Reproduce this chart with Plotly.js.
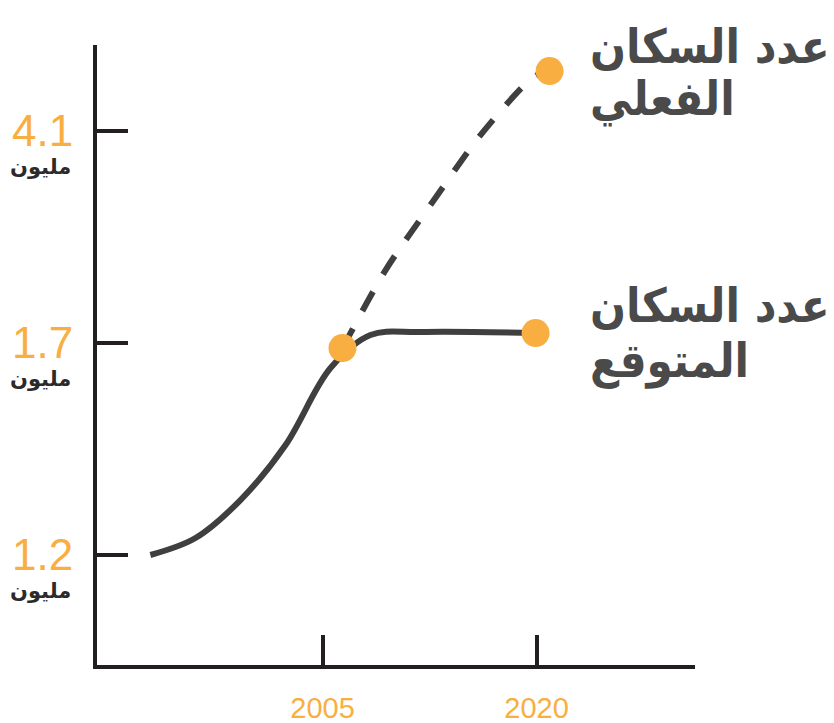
<!DOCTYPE html>
<html>
<head>
<meta charset="utf-8">
<script src="https://cdn.plot.ly/plotly-3.0.1.min.js"></script>
<style>html,body{margin:0;padding:0;background:#fff;}#chart{width:834px;height:723px;}</style>
</head>
<body>
<div id="chart"></div>
<script>
// Y axis levels (millions), equally spaced on the chart
var yLevelPos = [0, 1, 2];
var yLevelText = ['1.2', '1.7', '4.1'];
var yUnitText = 'مليون';
// X axis ticks
var xTicks = [2005, 2020];
var xTickText = ['2005', '2020'];

// Expected population curve (solid) – positions on the level scale
var expectedX = [1992.94, 1996.1, 1999.25, 2002.41, 2005.56, 2008.36, 2011.87, 2019.93];
var expectedY = [0, 0.080, 0.259, 0.519, 0.882, 1.038, 1.052, 1.047];
// Actual population curve (dashed)
var actualX = [2006.4, 2009.42, 2012.71, 2016.07, 2019.79, 2020.91];
var actualY = [0.976, 1.344, 1.665, 1.981, 2.255, 2.283];
// Highlighted points
var pointX = [2006.4, 2019.93, 2020.91];
var pointY = [0.976, 1.047, 2.283];

var labelActual = ['عدد السكان', 'الفعلي'];
var labelExpected = ['عدد السكان', 'المتوقع'];

var orange = '#F9AE42';
var dark = '#3f3f3f';
var axisCol = '#231f20';

var traces = [
  {x: actualX, y: actualY, mode: 'lines', line: {color: dark, width: 6, dash: '22px,20px', shape: 'spline', smoothing: 0.8}, hoverinfo: 'skip'},
  {x: expectedX, y: expectedY, mode: 'lines', line: {color: dark, width: 6, shape: 'spline', smoothing: 1}, hoverinfo: 'skip'},
  {x: pointX, y: pointY, mode: 'markers', marker: {color: orange, size: 28}, hoverinfo: 'skip'}
];

var annotations = yLevelPos.map(function (p) {
  return {x: 0, xref: 'paper', y: p, yref: 'y', xanchor: 'right', yanchor: 'middle', xshift: -24, yshift: -36,
    text: '<b>' + yUnitText + '</b>', showarrow: false, font: {family: 'DejaVu Sans', size: 21, color: '#2b2b2b'}};
});
function lab(t, yp) {
  return {x: 0.821, xref: 'paper', y: yp, yref: 'paper', xanchor: 'left', yanchor: 'middle', align: 'left',
    text: '<b>' + t + '</b>', showarrow: false, font: {family: 'DejaVu Sans Condensed, DejaVu Sans', size: 47, color: '#4a4a4a'}};
}
annotations.push(lab(labelActual[0], 0.997));
annotations.push(lab(labelActual[1], 0.913));
annotations.push(lab(labelExpected[0], 0.58));
annotations.push(lab(labelExpected[1], 0.49));

var layout = {
  width: 834, height: 723,
  margin: {l: 97, r: 139, t: 45, b: 58, pad: 0},
  paper_bgcolor: '#fff', plot_bgcolor: '#fff',
  showlegend: false,
  xaxis: {range: [1989.2, 2031.1], showline: true, linewidth: 4, linecolor: axisCol, ticks: 'inside', ticklen: 30, tickwidth: 4, tickcolor: axisCol,
    tickvals: xTicks, ticktext: xTickText, showgrid: false, zeroline: false, ticklabelstandoff: 14,
    tickfont: {family: 'Liberation Sans', size: 29, color: orange}},
  yaxis: {range: [-0.519, 2.406], showline: true, linewidth: 4, linecolor: axisCol, ticks: 'inside', ticklen: 31, tickwidth: 4, tickcolor: axisCol,
    tickvals: yLevelPos, ticktext: yLevelText, showgrid: false, zeroline: false, ticklabelstandoff: 11,
    tickfont: {family: 'Liberation Sans', size: 44, color: orange}},
  annotations: annotations
};

Plotly.newPlot('chart', traces, layout, {staticPlot: true, displayModeBar: false});
</script>
</body>
</html>
